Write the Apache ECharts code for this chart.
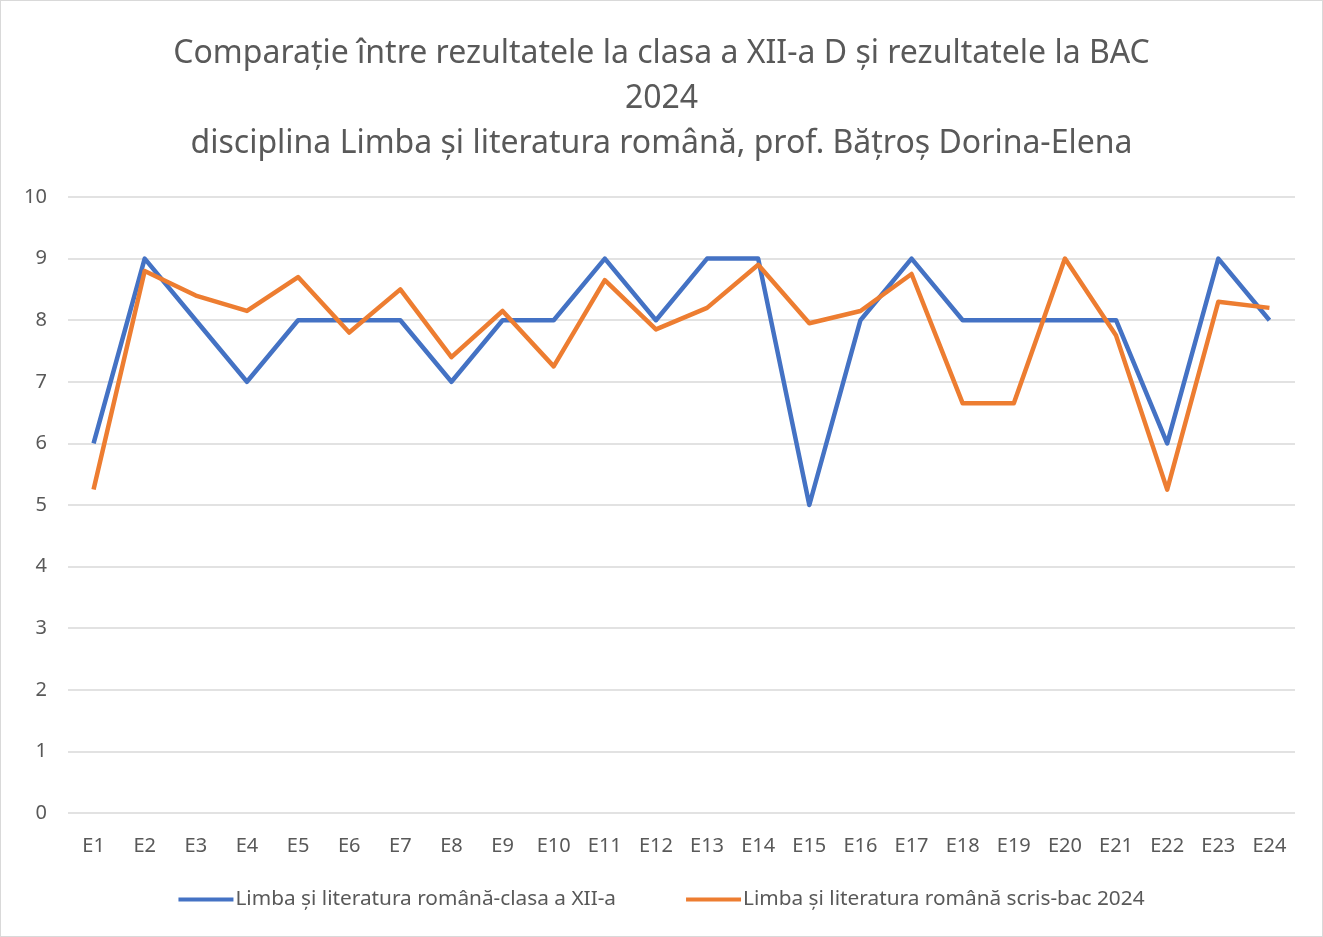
<!DOCTYPE html>
<html>
<head>
<meta charset="utf-8">
<script src="https://cdn.jsdelivr.net/npm/echarts@6/dist/echarts.min.js"></script>
<style>
  html, body { margin: 0; padding: 0; background: #fff; }
  #chart { width: 1321px; height: 935px; border: 1px solid #d9d9d9; }
</style>
</head>
<body>
<div id="chart"></div>
<script>
// date
var categorii = ['E1','E2','E3','E4','E5','E6','E7','E8','E9','E10','E11','E12',
                 'E13','E14','E15','E16','E17','E18','E19','E20','E21','E22','E23','E24'];
var clasaXII = [6, 9, 8, 7, 8, 8, 8, 7, 8, 8, 9, 8, 9, 9, 5, 8, 9, 8, 8, 8, 8, 6, 9, 8];
var bac2024 = [5.25, 8.8, 8.4, 8.15, 8.7, 7.8, 8.5, 7.4, 8.15, 7.25, 8.65, 7.85,
               8.2, 8.9, 7.95, 8.15, 8.75, 6.65, 6.65, 9, 7.75, 5.25, 8.3, 8.2];
var numeSerii = ['Limba și literatura română-clasa a XII-a', 'Limba și literatura română scris-bac 2024'];

var font = 'Noto Sans';
var myChart = echarts.init(document.getElementById('chart'));
var option = {
    backgroundColor: '#fff',
    textStyle: { fontFamily: font },
    title: {
        text: 'Comparație între rezultatele la clasa a XII-a D și rezultatele la BAC\n2024\ndisciplina Limba și literatura română, prof. Bățroș Dorina-Elena',
        left: 'center',
        top: 25,
        textStyle: {
            color: '#595959',
            fontSize: 32,
            fontWeight: 'normal',
            fontFamily: font,
            lineHeight: 45
        }
    },
    legend: {
        bottom: 21,
        left: 'center',
        itemWidth: 55,
        itemHeight: 4,
        itemGap: 70,
        icon: 'rect',
        data: numeSerii,
        textStyle: { color: '#595959', fontSize: 20.8, fontFamily: font, padding: [0, 0, 0, -3] }
    },
    grid: { left: 67, right: 27, top: 196, bottom: 123, containLabel: false },
    xAxis: {
        type: 'category',
        data: categorii,
        boundaryGap: true,
        axisLine: { show: false },
        axisTick: { show: false },
        axisLabel: { color: '#595959', fontSize: 20, margin: 23 }
    },
    yAxis: {
        type: 'value',
        min: 0,
        max: 10,
        interval: 1,
        axisLine: { show: false },
        axisTick: { show: false },
        axisLabel: { color: '#595959', fontSize: 20, margin: 21 },
        splitLine: { lineStyle: { color: '#d9d9d9', width: 1.5 } }
    },
    series: [
        {
            name: numeSerii[0],
            type: 'line',
            data: clasaXII,
            symbol: 'none',
            color: '#4472C4',
            lineStyle: { width: 4.5, color: '#4472C4', join: 'round' }
        },
        {
            name: numeSerii[1],
            type: 'line',
            data: bac2024,
            symbol: 'none',
            color: '#ED7D31',
            lineStyle: { width: 4.5, color: '#ED7D31', join: 'round' }
        }
    ]
};
myChart.setOption(option);
</script>
</body>
</html>
